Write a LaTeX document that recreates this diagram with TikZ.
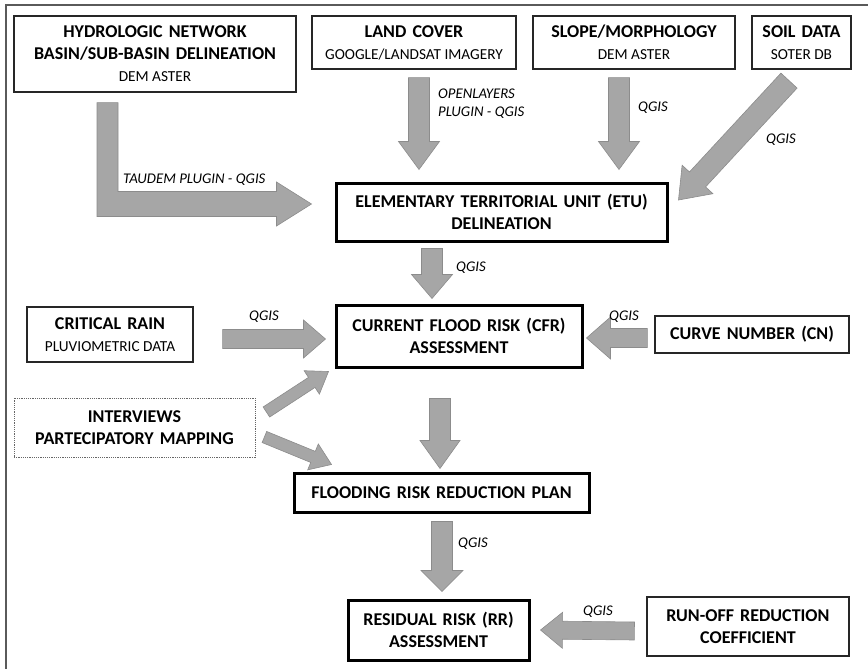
\documentclass[tikz,border=0pt]{standalone}
\usepackage{fontspec}
\setmainfont{Carlito}
\usepackage{tikz}
\usetikzlibrary{calc}

\definecolor{arrowfill}{HTML}{A6A6A6}
\definecolor{arrowedge}{HTML}{8C8C8C}
\definecolor{framegray}{HTML}{5A5A5A}

\newcommand{\widespace}{\spaceskip=.34em plus .1em\relax}
\tikzset{
  databox/.style={draw=black!85, line width=1.2pt, align=center, inner sep=0pt,
    font=\fontsize{18}{22}\selectfont\bfseries\widespace},
  stepbox/.style={databox, draw=black, line width=3pt},
  fatarrow/.style={fill=arrowfill, draw=arrowedge, line width=0.6pt, line join=miter},
  tool/.style={font=\fontsize{14.8}{18}\selectfont\itshape, inner sep=1pt, align=left},
}
\newcommand{\subline}[1]{{\fontsize{15.3}{22}\selectfont\mdseries\spaceskip=0pt\relax #1}}
% block arrow: tail, tip, half shaft, half head, head length
\newcommand{\blockarrow}[5]{%
  \coordinate (ba-t) at #1;
  \coordinate (ba-h) at #2;
  \coordinate (ba-b) at ($(ba-h)!#5!(ba-t)$);
  \draw[fatarrow] ($(ba-t)!#3!90:(ba-h)$) -- ($(ba-b)!#3!-90:(ba-t)$) -- ($(ba-b)!#4!-90:(ba-t)$)
    -- (ba-h) -- ($(ba-b)!#4!90:(ba-t)$) -- ($(ba-b)!#3!90:(ba-t)$) -- ($(ba-t)!#3!-90:(ba-h)$) -- cycle;}

\begin{document}
\begin{tikzpicture}[x=1pt,y=-1pt]
  \useasboundingbox (0,0) rectangle (868,669);
  % frame
  \draw[framegray, line width=2pt] (6,669) -- (6,5) -- (868,5);

  % input data
  \node[databox, minimum width=282pt, minimum height=76pt] (hydro) at (155,54)
    {HYDROLOGIC NETWORK\\BASIN/SUB-BASIN DELINEATION\\\subline{DEM ASTER}};
  \node[databox, minimum width=204pt, minimum height=53pt] (land) at (414,42.5)
    {LAND COVER\\\subline{GOOGLE/LANDSAT IMAGERY}};
  \node[databox, minimum width=202pt, minimum height=53pt] (slope) at (634,42.5)
    {SLOPE/MORPHOLOGY\\\subline{DEM ASTER}};
  \node[databox, minimum width=99pt, minimum height=53pt] (soil) at (801.5,42.5)
    {SOIL DATA\\\subline{SOTER DB}};
  \node[databox, minimum width=166pt, minimum height=55pt] (rain) at (110,334.5)
    {CRITICAL RAIN\\\subline{PLUVIOMETRIC DATA}};
  \node[databox, minimum width=194pt, minimum height=37pt] (cn) at (752,334.5)
    {CURVE NUMBER (CN)};
  \node[databox, draw=black!60, densely dotted, line width=0.8pt, minimum width=241pt,
    minimum height=59pt] (interv) at (134.5,427.5) {INTERVIEWS\\PARTECIPATORY MAPPING};
  \node[databox, minimum width=202pt, minimum height=59pt] (runoff) at (748,626.5)
    {RUN-OFF REDUCTION\\COEFFICIENT};

  % steps
  \node[stepbox, minimum width=331pt, minimum height=58pt] (etu) at (501.5,212)
    {ELEMENTARY TERRITORIAL UNIT (ETU)\\DELINEATION};
  \node[stepbox, minimum width=246pt, minimum height=62pt] (cfr) at (459,336)
    {CURRENT FLOOD RISK (CFR)\\ASSESSMENT};
  \node[stepbox, minimum width=295pt, minimum height=39pt] (frrp) at (441.5,492.5)
    {FLOODING RISK REDUCTION PLAN};
  \node[stepbox, minimum width=181pt, minimum height=60pt] (rr) at (438.5,630)
    {RESIDUAL RISK (RR)\\ASSESSMENT};

  % L arrow
  \coordinate (lt) at ([xshift=-47.5pt,yshift=-10pt]hydro.south);
  \coordinate (lh) at ([xshift=-23pt,yshift=8pt]etu.west);
  \coordinate (lc) at (lt |- lh);
  \draw[fatarrow] ($(lt)+(-10.5pt,0)$) -- ($(lc)+(-10.5pt,-12.5pt)$) -- ($(lh)+(-35pt,-12.5pt)$)
    -- ($(lh)+(-35pt,-22pt)$) -- (lh) -- ($(lh)+(-35pt,22pt)$) -- ($(lh)+(-35pt,12.5pt)$)
    -- ($(lc)+(10.5pt,12.5pt)$) -- ($(lt)+(10.5pt,0)$) -- cycle;

  % top arrows
  \blockarrow{([xshift=5pt,yshift=-8pt]land.south)}{([xshift=-82.5pt,yshift=12pt]etu.north)}{10.5pt}{20.5pt}{28pt}
  \blockarrow{([xshift=-15pt,yshift=-8pt]slope.south)}{([xshift=117.5pt,yshift=12pt]etu.north)}{10.5pt}{20.5pt}{28pt}
  \blockarrow{([xshift=-12.5pt,yshift=-11pt]soil.south)}{([xshift=10pt,yshift=12pt]etu.east)}{11pt}{21pt}{28pt}

  % down the chain
  \blockarrow{([xshift=-69.5pt,yshift=-6pt]etu.south)}{([xshift=-27pt,yshift=5pt]cfr.north)}{10.5pt}{20.5pt}{24pt}
  \blockarrow{([xshift=-19pt,yshift=-30pt]cfr.south)}{([xshift=-1.5pt,yshift=3pt]frrp.north)}{10.5pt}{20pt}{28pt}
  \blockarrow{([xshift=0.5pt,yshift=-8pt]frrp.south)}{([xshift=3.5pt,yshift=7pt]rr.north)}{10.5pt}{21pt}{21pt}

  % side arrows
  \blockarrow{([xshift=29pt,yshift=-4.5pt]rain.east)}{([xshift=-9pt,yshift=-3pt]cfr.west)}{9.5pt}{19pt}{22pt}
  \blockarrow{([xshift=-7pt,yshift=-3.5pt]cn.west)}{([xshift=3pt,yshift=-2pt]cfr.east)}{9.5pt}{21pt}{24pt}
  \blockarrow{([xshift=-12pt,yshift=-4.5pt]runoff.west)}{([xshift=10pt]rr.east)}{9pt}{18pt}{22pt}
  \blockarrow{([xshift=11pt,yshift=15.5pt]interv.east)}{([xshift=-6pt,yshift=-3pt]cfr.south west)}{6pt}{14pt}{20pt}
  \blockarrow{([xshift=9pt,yshift=-9.5pt]interv.east)}{([xshift=39pt,yshift=7pt]frrp.north west)}{6pt}{14pt}{20pt}

  % labels
  \node[tool, anchor=west] (lb-taudem) at (122,180) {TAUDEM PLUGIN - QGIS};
  \node[tool, anchor=west] (lb-open) at (437,104) {OPENLAYERS\\PLUGIN - QGIS};
  \node[tool, anchor=west] (lb-slope) at (637,108) {QGIS};
  \node[tool, anchor=west] (lb-soil) at (765,140) {QGIS};
  \node[tool, anchor=west] (lb-etu) at (455,268) {QGIS};
  \node[tool, anchor=west] (lb-rain) at (248,317) {QGIS};
  \node[tool, anchor=west] (lb-cn) at (608,317) {QGIS};
  \node[tool, anchor=west] (lb-frrp) at (457,544) {QGIS};
  \node[tool, anchor=west] (lb-runoff) at (582,612) {QGIS};
\end{tikzpicture}
\end{document}
